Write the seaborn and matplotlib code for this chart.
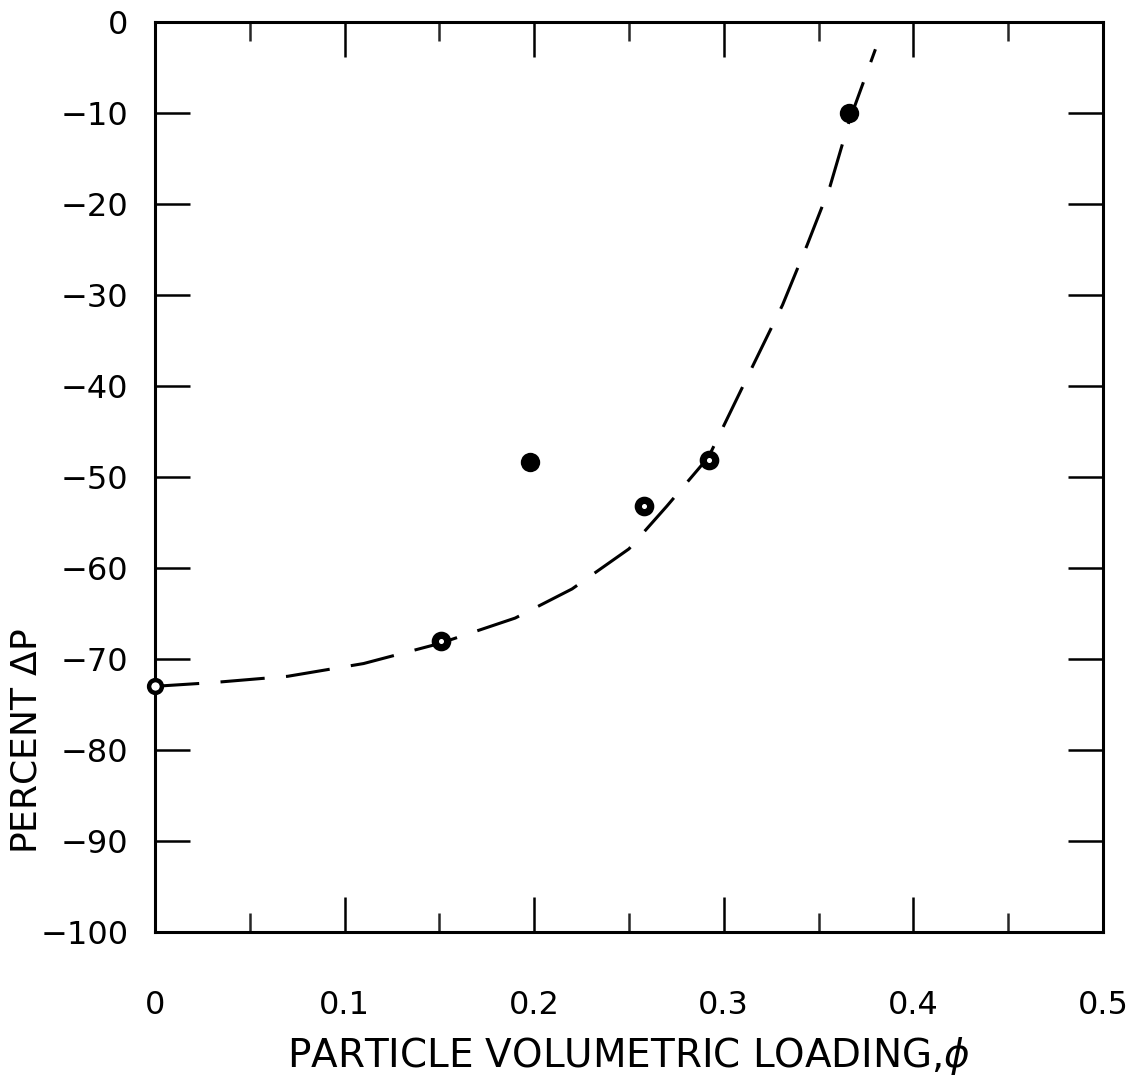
import numpy as np
import pandas as pd
import matplotlib
matplotlib.use("Agg")
import matplotlib.pyplot as plt
import seaborn as sns
from matplotlib.ticker import MultipleLocator

# ------------------------- Data -------------------------
point_phi = [0.0, 0.151, 0.198, 0.258, 0.292, 0.366]
point_dp = [-73.0, -68.0, -48.3, -53.2, -48.1, -10.0]
point_kind = ["open", "ring", "solid", "ring", "ring", "solid"]

curve_phi = [0.0, 0.03, 0.07, 0.11, 0.15, 0.19, 0.22, 0.25, 0.27, 0.292,
             0.316, 0.331, 0.344, 0.356, 0.366, 0.38]
curve_dp = [-73.0, -72.6, -71.9, -70.5, -68.3, -65.5, -62.3, -57.9, -53.2, -47.8,
            -37.5, -31.1, -24.5, -18.1, -11.0, -3.0]

x_ticks = [0, 0.1, 0.2, 0.3, 0.4, 0.5]
x_tick_labels = ["0", "0.1", "0.2", "0.3", "0.4", "0.5"]
y_ticks = [0, -10, -20, -30, -40, -50, -60, -70, -80, -90, -100]

points = pd.DataFrame({"phi": point_phi, "dp": point_dp, "kind": point_kind})
curve = pd.DataFrame({"phi": curve_phi, "dp": curve_dp})

# ------------------------- Style -------------------------
sns.set_style("ticks")
plt.rcParams["font.family"] = ["DejaVu Sans"]
plt.rcParams["text.color"] = "black"
plt.rcParams["axes.labelcolor"] = "black"

fig = plt.figure(figsize=(11.42, 10.76), dpi=100)
ax = fig.add_axes([0.1357, 0.1338, 0.8301, 0.8458])

# dashed fit curve
sns.lineplot(data=curve, x="phi", y="dp", ax=ax, color="black", linewidth=2.2,
             sort=False)
ax.lines[-1].set_dashes((14.5, 7))

# data points
marker_style = {
    "open": dict(s=85, facecolor="white", edgecolor="black", linewidth=3.2),
    "ring": dict(s=80, facecolor="white", edgecolor="black", linewidth=5.2),
    "solid": dict(s=195, facecolor="black", edgecolor="black", linewidth=0),
}
for kind, style in marker_style.items():
    sub = points[points["kind"] == kind]
    sns.scatterplot(data=sub, x="phi", y="dp", ax=ax, marker="o", zorder=5,
                    clip_on=False, **style)

# ------------------------- Axes -------------------------
ax.set_xlim(0, 0.5)
ax.set_ylim(-100, 0)
ax.set_xticks(x_ticks)
ax.set_xticklabels(x_tick_labels)
ax.xaxis.set_minor_locator(MultipleLocator(0.05))
ax.set_yticks(y_ticks)

for side in ["top", "bottom", "left", "right"]:
    ax.spines[side].set_visible(True)
    ax.spines[side].set_linewidth(2.2)
    ax.spines[side].set_color("black")

ax.tick_params(axis="both", which="major", direction="in", length=25, width=1.8,
               top=True, right=True, labelsize=23, colors="black")
ax.tick_params(axis="x", which="minor", direction="in", length=14, width=1.8,
               top=True, bottom=True)
ax.tick_params(axis="x", which="major", pad=42)
ax.tick_params(axis="y", which="major", pad=19)

ax.set_xlabel("PARTICLE VOLUMETRIC LOADING,$\\phi$", fontsize=28, labelpad=10)
ax.set_ylabel("PERCENT $\\Delta$P", fontsize=26)
ax.yaxis.set_label_coords(-0.118, 0.21)

fig.savefig("out.png", dpi=100, facecolor="white")
plt.close(fig)
